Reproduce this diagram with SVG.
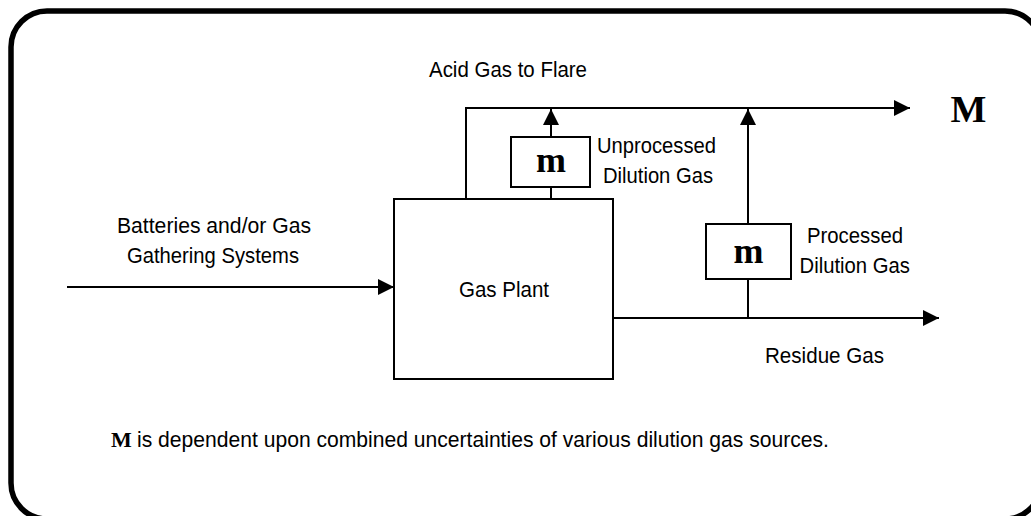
<svg xmlns="http://www.w3.org/2000/svg" width="1031" height="516" viewBox="0 0 1031 516">
<style>
.lbl{font-family:"Liberation Sans",Arial,sans-serif;font-size:22px;fill:#000}
.ser{font-family:"Liberation Serif","Times New Roman",serif;font-weight:bold;fill:#000}
.box{fill:#fff;stroke:#000;stroke-width:2}
.ln{fill:none;stroke:#000;stroke-width:2}
</style>
<defs>
<marker id="arr" viewBox="0 0 16 16" refX="16" refY="8" markerWidth="16" markerHeight="16" markerUnits="userSpaceOnUse" orient="auto">
<path d="M0,0 L16,8 L0,16 z" fill="#000"/>
</marker>
</defs>
<rect x="11" y="11" width="1030" height="508" rx="36" ry="36" fill="#fff" stroke="#000" stroke-width="5.5"/>
<g id="connectors">
<line class="ln" x1="67" y1="287" x2="394" y2="287" marker-end="url(#arr)"/>
<polyline class="ln" points="466,199 466,108 910,108" marker-end="url(#arr)"/>
<line class="ln" x1="551" y1="199" x2="551" y2="187"/>
<line class="ln" x1="551" y1="137" x2="551" y2="109" marker-end="url(#arr)"/>
<line class="ln" x1="613" y1="318" x2="939" y2="318" marker-end="url(#arr)"/>
<line class="ln" x1="748" y1="318" x2="748" y2="279"/>
<line class="ln" x1="748" y1="224" x2="748" y2="109" marker-end="url(#arr)"/>
</g>
<g id="gas-plant">
<rect class="box" x="394" y="199" width="219" height="180"/>
<text class="lbl" x="459" y="297" textLength="90" lengthAdjust="spacingAndGlyphs">Gas Plant</text>
</g>
<g id="meter-unprocessed">
<rect class="box" x="511" y="137" width="79" height="50"/>
<text class="ser" x="551" y="172" font-size="36" text-anchor="middle">m</text>
<text class="lbl" x="597" y="153" textLength="119" lengthAdjust="spacingAndGlyphs">Unprocessed</text>
<text class="lbl" x="603" y="183" textLength="110" lengthAdjust="spacingAndGlyphs">Dilution Gas</text>
</g>
<g id="meter-processed">
<rect class="box" x="706" y="224" width="85" height="55"/>
<text class="ser" x="748.5" y="263" font-size="36" text-anchor="middle">m</text>
<text class="lbl" x="807" y="243" textLength="96" lengthAdjust="spacingAndGlyphs">Processed</text>
<text class="lbl" x="799.5" y="273" textLength="110.5" lengthAdjust="spacingAndGlyphs">Dilution Gas</text>
</g>
<g id="source">
<text class="lbl" x="117" y="233" textLength="194" lengthAdjust="spacingAndGlyphs">Batteries and/or Gas</text>
<text class="lbl" x="127" y="263" textLength="172" lengthAdjust="spacingAndGlyphs">Gathering Systems</text>
</g>
<g id="acid-gas">
<text class="lbl" x="429" y="77" textLength="158" lengthAdjust="spacingAndGlyphs">Acid Gas to Flare</text>
</g>
<g id="total">
<text class="ser" x="968.5" y="122" font-size="38" text-anchor="middle">M</text>
</g>
<g id="residue">
<text class="lbl" x="765" y="363" textLength="119" lengthAdjust="spacingAndGlyphs">Residue Gas</text>
</g>
<g id="note">
<text class="ser" x="111" y="447" font-size="22">M</text>
<text class="lbl" x="137" y="447" textLength="692" lengthAdjust="spacingAndGlyphs">is dependent upon combined uncertainties of various dilution gas sources.</text>
</g>
</svg>
